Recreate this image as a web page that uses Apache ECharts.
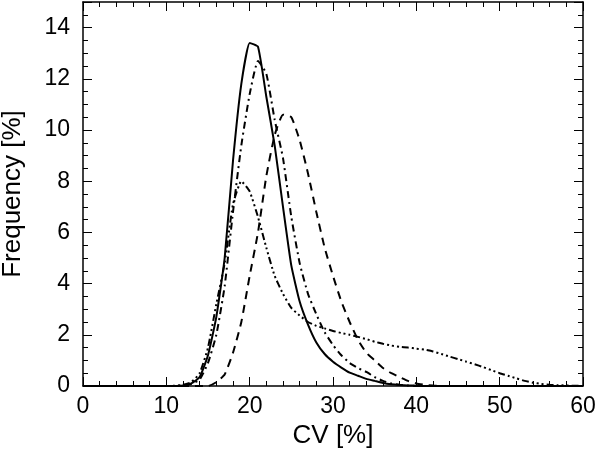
<!DOCTYPE html>
<html>
<head>
<meta charset="utf-8">
<script src="https://cdn.jsdelivr.net/npm/echarts@6/dist/echarts.min.js"></script>
<style>
  html, body { margin: 0; padding: 0; background: #fff; }
  #chart { width: 600px; height: 450px; }
</style>
</head>
<body>
<div id="chart"></div>
<script>
// CV values (x), 0..60 step 1
var cvValues = [];
for (var i = 0; i <= 60; i++) cvValues.push(i);

// frequency [%] per curve, one value per cvValues entry
var solidFreq = [
  0, 0, 0, 0, 0, 0, 0, 0, 0, 0,
  0, 0, 0.02, 0.1, 0.35, 1.2, 2.7, 5.0, 8.8, 11.8,
  13.4, 13.25, 11.3, 9.4, 7.0, 4.7, 3.3, 2.4, 1.7, 1.25,
  0.95, 0.72, 0.52, 0.4, 0.28, 0.2, 0.12, 0.07, 0.04, 0.02,
  0.01, 0, 0, 0, 0, 0, 0, 0, 0, 0,
  0, 0, 0, 0, 0, 0, 0, 0, 0, 0, 0
];
var dashDotFreq = [
  0, 0, 0, 0, 0, 0, 0, 0, 0, 0,
  0, 0, 0.02, 0.08, 0.25, 0.9, 2.0, 3.9, 6.8, 9.4,
  11.4, 12.7, 12.2, 10.4, 8.9, 6.6, 4.8, 3.6, 2.8, 2.1,
  1.6, 1.2, 0.9, 0.7, 0.55, 0.35, 0.2, 0.1, 0.05, 0.02,
  0, 0, 0, 0, 0, 0, 0, 0, 0, 0,
  0, 0, 0, 0, 0, 0, 0, 0, 0, 0, 0
];
var dashedFreq = [
  0, 0, 0, 0, 0, 0, 0, 0, 0, 0,
  0, 0, 0, 0, 0, 0, 0.15, 0.45, 1.3, 2.5,
  4.3, 6.0, 8.2, 9.8, 10.6, 10.5, 9.6, 8.3, 6.8, 5.4,
  4.3, 3.3, 2.5, 1.8, 1.3, 1.0, 0.7, 0.5, 0.35, 0.2,
  0.1, 0.05, 0.02, 0, 0, 0, 0, 0, 0, 0,
  0, 0, 0, 0, 0, 0, 0, 0, 0, 0, 0
];
var dashDotsFreq = [
  0, 0, 0, 0, 0, 0, 0, 0, 0, 0,
  0, 0.01, 0.05, 0.15, 0.5, 1.5, 3.2, 4.8, 7.1, 8.0,
  7.6, 6.6, 5.4, 4.3, 3.6, 3.05, 2.75, 2.5, 2.35, 2.25,
  2.15, 2.07, 2.0, 1.92, 1.83, 1.73, 1.65, 1.58, 1.53, 1.5,
  1.46, 1.42, 1.35, 1.25, 1.15, 1.05, 0.95, 0.85, 0.74, 0.62,
  0.5, 0.4, 0.3, 0.2, 0.13, 0.08, 0.05, 0.03, 0.02, 0.01, 0
];

function pairs(ys) {
  return cvValues.map(function (x, k) { return [x, ys[k]]; });
}

var font = "'Liberation Sans', Arial, sans-serif";
var chart = echarts.init(document.getElementById('chart'));

function lineSeries(name, ys, dash) {
  return {
    name: name,
    type: 'line',
    data: pairs(ys),
    showSymbol: false,
    symbol: 'none',
    smooth: 0.15,
    lineStyle: { color: '#000', width: 2, type: dash },
    z: 3
  };
}

// shared look of all four frame sides: inward ticks, no grid
function frame(split) {
  return {
    axisLine: { show: true, onZero: false, lineStyle: { color: '#000', width: 1.5 } },
    axisTick: { show: true, inside: true, length: 9, lineStyle: { color: '#000', width: 1 } },
    minorTick: { show: true, splitNumber: split, length: 5, lineStyle: { color: '#000', width: 1 } },
    splitLine: { show: false }
  };
}

chart.setOption({
  backgroundColor: '#fff',
  animation: false,
  grid: { left: 83, right: 17, top: 2, bottom: 64, containLabel: false, outerBoundsMode: 'none' },
  xAxis: [
    Object.assign({
      type: 'value', min: 0, max: 60, interval: 10, position: 'bottom',
      axisLabel: { color: '#000', fontSize: 23, fontFamily: font, margin: 9 },
      name: 'CV [%]', nameLocation: 'middle', nameGap: 35,
      nameTextStyle: { color: '#000', fontSize: 26, fontFamily: font }
    }, frame(5)),
    Object.assign({
      type: 'value', min: 0, max: 60, interval: 10, position: 'top',
      axisLabel: { show: false }
    }, frame(5))
  ],
  yAxis: [
    Object.assign({
      type: 'value', min: 0, max: 15, interval: 2, position: 'left',
      axisLabel: { color: '#000', fontSize: 23, fontFamily: font, margin: 13,
        formatter: function (v) { return v <= 14 ? v : ''; } },
      name: 'Frequency [%]', nameLocation: 'middle', nameGap: 57,
      nameTextStyle: { color: '#000', fontSize: 26, fontFamily: font }
    }, frame(4)),
    Object.assign({
      type: 'value', min: 0, max: 15, interval: 2, position: 'right',
      axisLabel: { show: false }
    }, frame(4))
  ],
  series: [
    lineSeries('solid', solidFreq, 'solid'),
    lineSeries('dash-dot', dashDotFreq, [7, 4, 2, 4]),
    lineSeries('dashed', dashedFreq, [8, 6]),
    lineSeries('dash-dot-dot-dot', dashDotsFreq, [7, 3, 2, 3, 2, 3, 2, 3])
  ]
});
</script>
</body>
</html>
